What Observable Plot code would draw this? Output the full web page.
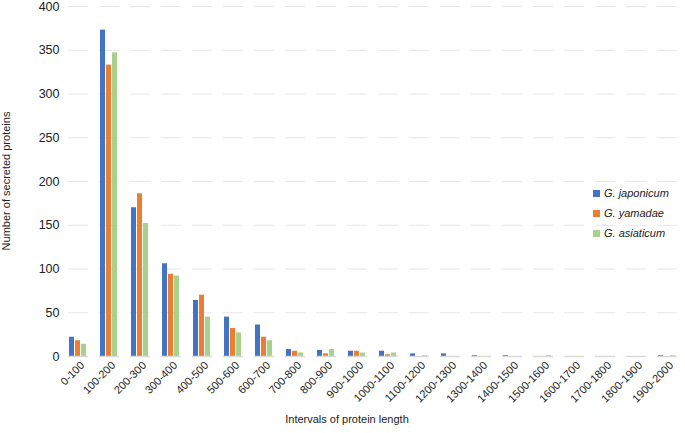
<!DOCTYPE html>
<html>
<head>
<meta charset="utf-8">
<script src="https://cdn.jsdelivr.net/npm/d3@7"></script>
<script src="https://cdn.jsdelivr.net/npm/@observablehq/plot@0.6"></script>
<style>
  body { margin: 0; background: #fff; font-family: "Liberation Sans", Arial, sans-serif; }
  #wrap { position: relative; width: 685px; height: 433px; }
  #legend { position: absolute; left: 593px; top: 183px; font-size: 11px; font-style: italic; color: #222; }
  #legend div { display: flex; align-items: center; height: 20px; }
  #legend span.sw { display: inline-block; width: 7px; height: 7px; margin-right: 4px; }
  #xtitle { position: absolute; left: 0; width: 694px; top: 413px; text-align: center; font-size: 11px; color: #222; }
  #ytitle { position: absolute; left: 6px; top: 181px; font-size: 11px; color: #222; white-space: nowrap;
            transform: translate(-50%, -50%) rotate(-90deg); }
</style>
</head>
<body>
<div id="wrap"><div id="legend"></div><div id="xtitle">Intervals of protein length</div><div id="ytitle">Number of secreted proteins</div></div>
<script>
const categories = ["0-100","100-200","200-300","300-400","400-500","500-600","600-700","700-800","800-900","900-1000","1000-1100","1100-1200","1200-1300","1300-1400","1400-1500","1500-1600","1600-1700","1700-1800","1800-1900","1900-2000"];
const seriesNames = ["G. japonicum","G. yamadae","G. asiaticum"];
const colors = ["#4472C4","#ED7D31","#A9D18E"];
const japonicum = [22,373,170,106,64,45,36,8,7,6,6,3,3,1,1,0,0,0,0,1];
const yamadae   = [18,333,186,94,70,32,22,6,3,6,2,0,0,0,0,0,0,0,0,0];
const asiaticum = [14,347,152,92,45,27,18,4,8,4,4,1,0,0,0,1,0,0,0,1];
const yTicks = [0,50,100,150,200,250,300,350,400];

const seriesValues = [japonicum, yamadae, asiaticum];
const data = [];
categories.forEach((c, i) => {
  seriesNames.forEach((s, j) => data.push({cat: c, series: s, value: seriesValues[j][i]}));
});

const chart = Plot.plot({
  width: 685,
  height: 433,
  marginLeft: 61,
  marginRight: 0,
  marginTop: 6,
  marginBottom: 77,
  style: {fontFamily: "Liberation Sans, Arial, sans-serif", fontSize: "12px", color: "#222"},
  fx: {domain: categories, padding: 0.35, label: null},
  x: {domain: seriesNames, padding: 0.12, axis: null},
  y: {domain: [0, 400]},
  color: {domain: seriesNames, range: colors},
  marks: [
    Plot.gridY(yTicks, {stroke: "#e6e6e6", strokeOpacity: 1}),
    Plot.barY(data, {fx: "cat", x: "series", y: "value", fill: "series"}),
    Plot.ruleY([0], {stroke: "#d9d9d9", strokeWidth: 1.5}),
    Plot.axisY(yTicks, {tickSize: 0, tickPadding: 9, fontSize: 12.5, label: null}),
    Plot.axisFx({anchor: "bottom", tickSize: 0, tickPadding: 7, dx: 4, tickRotate: -45, fontSize: 11, label: null})
  ]
});
document.getElementById("wrap").prepend(chart);

const legend = document.getElementById("legend");
seriesNames.forEach((s, j) => {
  const row = document.createElement("div");
  const sw = document.createElement("span");
  sw.className = "sw";
  sw.style.background = colors[j];
  row.appendChild(sw);
  row.appendChild(document.createTextNode(s));
  legend.appendChild(row);
});
</script>
</body>
</html>
